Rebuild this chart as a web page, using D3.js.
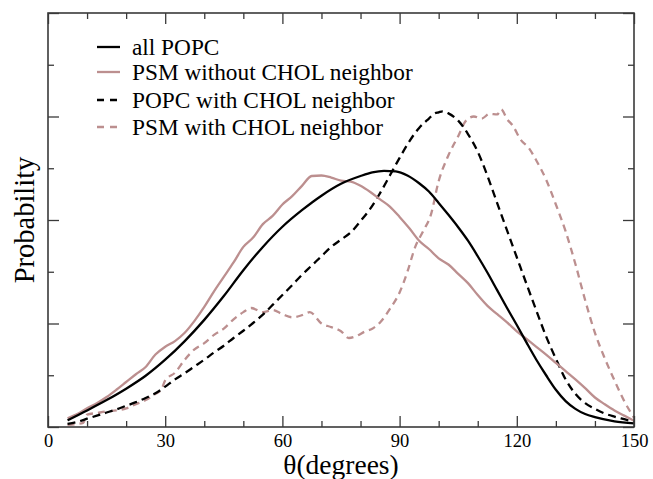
<!DOCTYPE html>
<html>
<head>
<meta charset="utf-8">
<script src="https://cdn.jsdelivr.net/npm/d3@7"></script>
<style>
  html, body { margin: 0; padding: 0; background: #fff; }
  svg { display: block; }
</style>
</head>
<body>
<svg id="chart" width="653" height="479"></svg>
<script>
// ---- data (theta in degrees, probability in arbitrary units) ----
const seriesNames = ["all POPC", "PSM without CHOL neighbor", "POPC with CHOL neighbor", "PSM with CHOL neighbor"];

const allPOPC = [
  [5,0.13],[10,0.32],[15,0.52],[20,0.74],[25,0.99],[30,1.30],[35,1.66],[40,2.07],[45,2.53],
  [50,3.03],[55,3.48],[60,3.87],[65,4.19],[70,4.47],[75,4.70],[80,4.85],[83,4.92],[86,4.95],
  [89,4.94],[92,4.86],[95,4.71],[97.5,4.55],[100,4.33],[102.5,4.10],[105,3.86],[107.5,3.60],
  [110,3.30],[112.5,2.98],[115,2.64],[117.5,2.30],[120,1.97],[122.5,1.63],[125,1.30],
  [127.5,1.00],[130,0.72],[132.5,0.50],[135,0.35],[137.5,0.25],[140,0.19],[145,0.11],[150,0.07]
];

const psmNoChol = [
  [5,0.17],[7.5,0.25],[10,0.36],[12.5,0.46],[15,0.58],[17.5,0.72],[20,0.87],[22.5,1.02],
  [25,1.16],[27.5,1.40],[30,1.55],[32.5,1.66],[35,1.82],[37.5,2.05],[40,2.32],[42.5,2.62],
  [45,2.90],[47.5,3.18],[50,3.48],[52.5,3.66],[55,3.92],[57.5,4.08],[60,4.30],[62.5,4.46],
  [65,4.66],[67.5,4.85],[70,4.86],[72.5,4.82],[75,4.76],[77.5,4.74],[80,4.66],[82.5,4.54],
  [85,4.40],[87.5,4.26],[90,4.06],[92.5,3.84],[95,3.60],[97.5,3.44],[100,3.26],[102.5,3.14],
  [105,2.96],[107.5,2.78],[110,2.55],[112.5,2.34],[115,2.18],[117.5,2.02],[120,1.85],
  [122.5,1.70],[125,1.55],[127.5,1.40],[130,1.24],[132.5,1.08],[135,0.92],[137.5,0.75],
  [140,0.57],[142.5,0.44],[145,0.32],[147.5,0.22],[150,0.12]
];

const popcChol = [
  [5,0.06],[7.5,0.10],[10,0.16],[12.5,0.22],[15,0.28],[17.5,0.34],[20,0.41],[22.5,0.48],
  [25,0.56],[27.5,0.65],[30,0.78],[32.5,0.92],[35,1.04],[37.5,1.17],[40,1.30],[42.5,1.44],
  [45,1.57],[47.5,1.72],[50,1.86],[52.5,2.01],[55,2.17],[57.5,2.36],[60,2.55],[62.5,2.74],
  [65,2.94],[67.5,3.12],[70,3.30],[72.5,3.48],[75,3.62],[77.5,3.76],[80,3.98],[82.5,4.22],
  [85,4.52],[87.5,4.86],[90,5.20],[92.5,5.52],[95,5.78],[97.5,5.96],[99,6.06],[100,6.08],
  [101,6.10],[102.5,6.06],[105,5.92],[107.5,5.66],[110,5.32],[112.5,4.85],[115,4.32],
  [117.5,3.80],[120,3.28],[122.5,2.76],[125,2.25],[127.5,1.75],[130,1.32],[132.5,0.92],
  [135,0.64],[137.5,0.46],[140,0.35],[142.5,0.26],[145,0.20],[147.5,0.15],[150,0.10]
];

const psmChol = [
  [5,0.04],[7.5,0.06],[9,0.08],[10,0.24],[12.5,0.27],[15,0.30],[17.5,0.32],[20,0.36],
  [22.5,0.44],[25,0.52],[27.5,0.64],[29,0.72],[30,0.90],[32.5,1.05],[35,1.30],[37.5,1.50],
  [40,1.62],[42.5,1.78],[45,1.90],[47.5,2.08],[50,2.22],[52,2.30],[55,2.22],[57.5,2.26],
  [60,2.18],[62.5,2.12],[65,2.16],[67,2.22],[70,2.00],[72.5,1.93],[75,1.85],[77,1.72],
  [79,1.76],[81,1.84],[83,1.90],[85,2.02],[87.5,2.28],[90,2.60],[92,3.00],[94,3.48],
  [96,3.78],[98,4.10],[100,4.75],[102.5,5.25],[105,5.62],[107,5.92],[109,6.00],[111,5.96],
  [113,6.05],[115,6.04],[116,6.14],[117.5,5.95],[119,5.82],[121,5.55],[123,5.40],[125,5.15],
  [127.5,4.78],[130,4.30],[132.5,3.78],[135,3.15],[137.5,2.45],[140,1.82],[142.5,1.33],
  [145,0.90],[147.5,0.50],[150,0.18]
];

const xTickLabels = [0, 30, 60, 90, 120, 150];
const xMinorTicks = d3.range(0, 151, 10);
const yMajorTicks = [0, 2, 4, 6, 8];
const yMinorTicks = d3.range(0, 9, 1);

// ---- layout ----
const svg = d3.select("#chart");
const pLeft = 48, pRight = 634, pTop = 13, pBottom = 427;
const x = d3.scaleLinear().domain([0, 150]).range([pLeft, pRight]);
const y = d3.scaleLinear().domain([0, 8]).range([pBottom, pTop]);

const black = "#000000";
const rosy = "#bc8f8f";
const font = "'Liberation Serif', 'Times New Roman', serif";

const styles = [
  { data: allPOPC, color: black, dash: null },
  { data: psmNoChol, color: rosy, dash: null },
  { data: popcChol, color: black, dash: "8,5" },
  { data: psmChol, color: rosy, dash: "7,5" }
];

// ---- curves ----
const line = d3.line().x(d => x(d[0])).y(d => y(d[1])).curve(d3.curveMonotoneX);
const drawOrder = [3, 2, 1, 0];
drawOrder.forEach(i => {
  const s = styles[i];
  svg.append("path")
    .datum(s.data)
    .attr("d", line)
    .attr("fill", "none")
    .attr("stroke", s.color)
    .attr("stroke-width", 2.3)
    .attr("stroke-dasharray", s.dash)
    .attr("stroke-linejoin", "round");
});

// ---- axes (ticks inward on all four sides) ----
const frameColor = "#3a3a3a";
const major = 11, minor = 6;

function tickAxis(axisGen, tf) {
  const g = svg.append("g").attr("transform", tf).call(axisGen);
  g.select(".domain").remove();
  g.selectAll("line").attr("stroke", frameColor).attr("stroke-width", 1.3);
  return g;
}

const xMinorOnly = xMinorTicks.filter(v => v % 30 !== 0);
const yMinorOnly = yMinorTicks.filter(v => v % 2 !== 0);

// bottom major with labels
const gxB = tickAxis(d3.axisBottom(x).tickValues(xTickLabels).tickSize(-major).tickPadding(7).tickFormat(d3.format("d")), `translate(0,${pBottom})`);
gxB.selectAll("text").attr("font-family", font).attr("font-size", 18.5).attr("fill", "#000");
tickAxis(d3.axisBottom(x).tickValues(xMinorOnly).tickSize(-minor).tickFormat(""), `translate(0,${pBottom})`);
// top
tickAxis(d3.axisTop(x).tickValues(xTickLabels).tickSize(-major).tickFormat(""), `translate(0,${pTop})`);
tickAxis(d3.axisTop(x).tickValues(xMinorOnly).tickSize(-minor).tickFormat(""), `translate(0,${pTop})`);
// left
tickAxis(d3.axisLeft(y).tickValues(yMajorTicks).tickSize(-major).tickFormat(""), `translate(${pLeft},0)`);
tickAxis(d3.axisLeft(y).tickValues(yMinorOnly).tickSize(-minor).tickFormat(""), `translate(${pLeft},0)`);
// right
tickAxis(d3.axisRight(y).tickValues(yMajorTicks).tickSize(-major).tickFormat(""), `translate(${pRight},0)`);
tickAxis(d3.axisRight(y).tickValues(yMinorOnly).tickSize(-minor).tickFormat(""), `translate(${pRight},0)`);

// frame
svg.append("rect")
  .attr("x", pLeft).attr("y", pTop)
  .attr("width", pRight - pLeft).attr("height", pBottom - pTop)
  .attr("fill", "none").attr("stroke", frameColor).attr("stroke-width", 1.6);

// ---- axis titles ----
svg.append("text")
  .attr("x", 341).attr("y", 474)
  .attr("text-anchor", "middle")
  .attr("font-family", font).attr("font-size", 27.5)
  .text("θ(degrees)");

svg.append("text")
  .attr("transform", `translate(34,220) rotate(-90)`)
  .attr("text-anchor", "middle")
  .attr("font-family", font).attr("font-size", 28.5)
  .text("Probability");

// ---- legend ----
const legendY = [47, 72, 100, 127];
seriesNames.forEach((name, i) => {
  const s = styles[i];
  svg.append("line")
    .attr("x1", 97).attr("x2", 120)
    .attr("y1", legendY[i]).attr("y2", legendY[i])
    .attr("stroke", s.color).attr("stroke-width", 2.3)
    .attr("stroke-dasharray", s.dash ? "7,6" : null);
  svg.append("text")
    .attr("x", 132).attr("y", legendY[i] + 8)
    .attr("font-family", font).attr("font-size", 23.3)
    .text(name);
});
</script>
</body>
</html>
